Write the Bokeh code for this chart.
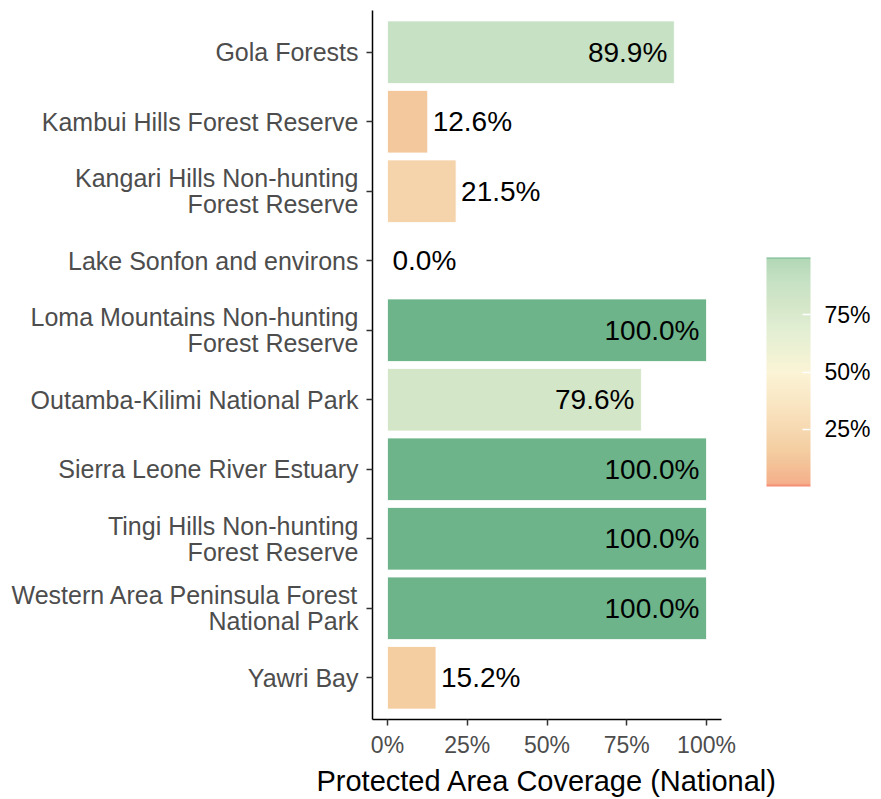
import numpy as np
from bokeh.plotting import figure
from bokeh.models import (ColumnDataSource, FactorRange, Range1d, FixedTicker,
                          CustomJSTickFormatter, ColorBar, LinearColorMapper)
from bokeh.core.properties import value
from bokeh.embed import file_html
from bokeh.resources import INLINE

# ---- data ----
sites = [
    "Gola Forests",
    "Kambui Hills Forest Reserve",
    "Kangari Hills Non-hunting\nForest Reserve",
    "Lake Sonfon and environs",
    "Loma Mountains Non-hunting\nForest Reserve",
    "Outamba-Kilimi National Park",
    "Sierra Leone River Estuary",
    "Tingi Hills Non-hunting\nForest Reserve",
    "Western Area Peninsula Forest\nNational Park",
    "Yawri Bay",
]
coverage = [89.9, 12.6, 21.5, 0.0, 100.0, 79.6, 100.0, 100.0, 100.0, 15.2]
x_ticks = [0, 25, 50, 75, 100]
legend_ticks = [25, 50, 75]

# ---- colour scale (stops of the gradient) ----
stop_vals = [0, 1.5, 12.6, 15.2, 21.5, 30, 50, 70, 79.6, 89.9, 99.4, 100]
stop_cols = ["#F4806A", "#F5B08C", "#F3C89C", "#F4CDA0", "#F5D4AB", "#F8DFBA",
             "#FBF4D6", "#E0EED2", "#D4E6C8", "#C6E1C4", "#B3D8B6", "#6DB48A"]

def hex2rgb(h):
    return [int(h[i:i + 2], 16) for i in (1, 3, 5)]

rgbs = np.array([hex2rgb(c) for c in stop_cols], dtype=float)
N = 200
palette = []
for i in range(N):
    v = (i + 0.5) * 100.0 / N if i < N - 1 else 100.0
    rgb = [np.interp(v, stop_vals, rgbs[:, k]) for k in range(3)]
    palette.append("#%02x%02x%02x" % tuple(int(round(c)) for c in rgb))

mapper = LinearColorMapper(palette=palette, low=0, high=100)

inside = [v > 50 for v in coverage]
src = ColumnDataSource(dict(
    site=sites,
    cov=coverage,
    lab=["%.1f%%" % v for v in coverage],
    align=["right" if f else "left" for f in inside],
    xoff=[-7 if f else 5 for f in inside],
))

p = figure(width=881, height=799, output_backend="svg", toolbar_location=None,
           y_range=FactorRange(factors=list(reversed(sites)), range_padding=0.1,
                               range_padding_units="absolute"),
           x_range=Range1d(-4.7, 104.7),
           min_border_left=372, min_border_right=159, min_border_top=10,
           min_border_bottom=79)

p.hbar(y="site", left=0, right="cov", height=0.9, source=src,
       fill_color={"field": "cov", "transform": mapper},
       line_color="white", line_width=0.8)

p.text(x="cov", y="site", text="lab", source=src, text_align="align",
       x_offset="xoff", text_baseline="middle", text_color="black",
       text_font=value("Liberation Sans"), text_font_size="28px")

p.grid.visible = False
p.outline_line_color = None
p.background_fill_color = "white"

for ax in (p.xaxis[0], p.yaxis[0]):
    ax.axis_line_color = "black"
    ax.axis_line_width = 1.5
    ax.major_tick_line_color = "#333333"
    ax.major_tick_line_width = 1.5
    ax.major_tick_out = 6
    ax.major_tick_in = 0
    ax.minor_tick_line_color = None
    ax.major_label_text_font = "Liberation Sans"
    ax.major_label_text_color = "#4D4D4D"
    ax.major_label_text_font_size = "23px"

p.yaxis[0].major_label_text_font_size = "25px"
p.yaxis[0].major_label_standoff = 8
p.yaxis[0].major_label_text_line_height = 0.92

p.xaxis[0].ticker = FixedTicker(ticks=x_ticks)
p.xaxis[0].formatter = CustomJSTickFormatter(code="return tick + '%';")
p.xaxis[0].major_label_standoff = 6
p.xaxis[0].axis_label = "Protected Area Coverage (National)"
p.xaxis[0].axis_label_text_font = "Liberation Sans"
p.xaxis[0].axis_label_text_font_style = "normal"
p.xaxis[0].axis_label_text_font_size = "29px"
p.xaxis[0].axis_label_text_color = "black"
p.xaxis[0].axis_label_standoff = 4

cb = ColorBar(color_mapper=mapper, width=44, height=229,
              ticker=FixedTicker(ticks=legend_ticks),
              formatter=CustomJSTickFormatter(code="return tick + '%';"),
              major_tick_line_color="white", major_tick_line_width=1.5,
              major_tick_in=8, major_tick_out=0,
              major_label_text_font="Liberation Sans",
              major_label_text_font_size="23px",
              major_label_text_color="black",
              label_standoff=14,
              margin=38, padding=8, location=(37, 225),
              border_line_color=None, bar_line_color=None)
p.add_layout(cb, "right")

open("out.html", "w").write(file_html(p, INLINE))
